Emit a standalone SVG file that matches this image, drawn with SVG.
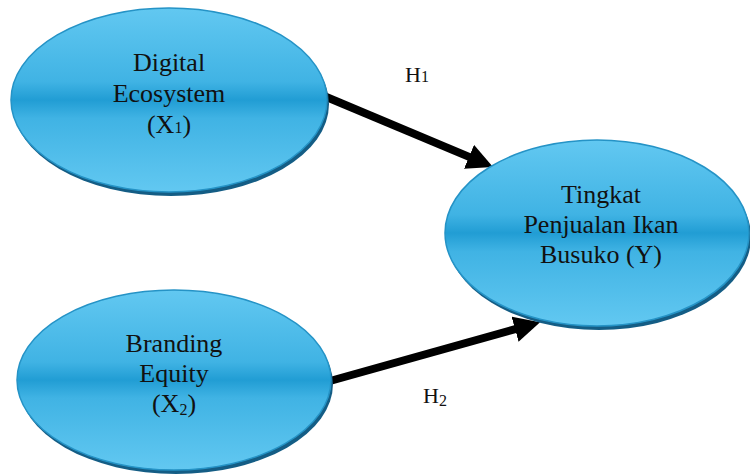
<svg xmlns="http://www.w3.org/2000/svg" width="750" height="474" viewBox="0 0 750 474">
<defs>
<linearGradient id="blue" x1="0" y1="0" x2="0" y2="1">
<stop offset="0" stop-color="#62c8f1"/>
<stop offset="0.4" stop-color="#40b3e4"/>
<stop offset="0.5" stop-color="#219dd4"/>
<stop offset="0.6" stop-color="#40b3e4"/>
<stop offset="1" stop-color="#62c8f1"/>
</linearGradient>
<marker id="head" markerUnits="userSpaceOnUse" markerWidth="28" markerHeight="28" refX="4" refY="13" orient="auto">
<path d="M0,0 L26,13 L0,26 z" fill="#000"/>
</marker>
</defs>
<style>
.shadow{fill:#145d85}
.body{fill:url(#blue);stroke:#2593c6;stroke-width:1.5}
.label{font-family:"Liberation Serif","Times New Roman",serif;font-size:26px;fill:#111;text-anchor:middle}
.h{font-family:"Liberation Serif","Times New Roman",serif;font-size:22px;fill:#111}
.sub{font-size:16px}
.arrow{stroke:#000;stroke-width:8;fill:none}
</style>
<rect width="750" height="474" fill="#fff"/>
<g id="connectors">
<line class="arrow" x1="324" y1="96" x2="472.7" y2="158.4" marker-end="url(#head)"/>
<line class="arrow" x1="330" y1="381" x2="518.9" y2="328.1" marker-end="url(#head)"/>
</g>
<g id="x1">
<ellipse class="shadow" cx="171" cy="104" rx="158" ry="92"/>
<ellipse class="body" cx="169" cy="100" rx="158" ry="92"/>
<text class="label" x="169" y="71">Digital</text>
<text class="label" x="169" y="102">Ecosystem</text>
<text class="label" x="169" y="133">(X<tspan class="sub">1</tspan>)</text>
</g>
<g id="x2">
<ellipse class="shadow" cx="176" cy="384" rx="157" ry="90"/>
<ellipse class="body" cx="174" cy="380" rx="157" ry="90"/>
<text class="label" x="174" y="352">Branding</text>
<text class="label" x="174" y="382">Equity</text>
<text class="label" x="174" y="412">(X<tspan class="sub" dy="3">2</tspan><tspan dy="-3">)</tspan></text>
</g>
<g id="y">
<ellipse class="shadow" cx="599" cy="237" rx="152" ry="93"/>
<ellipse class="body" cx="597" cy="233" rx="152" ry="93"/>
<text class="label" x="601" y="203">Tingkat</text>
<text class="label" x="601" y="233">Penjualan Ikan</text>
<text class="label" x="601" y="263">Busuko (Y)</text>
</g>
<g id="h1">
<text class="h" x="405" y="82">H<tspan class="sub">1</tspan></text>
</g>
<g id="h2">
<text class="h" x="423" y="403">H<tspan class="sub" dy="3">2</tspan></text>
</g>
</svg>
